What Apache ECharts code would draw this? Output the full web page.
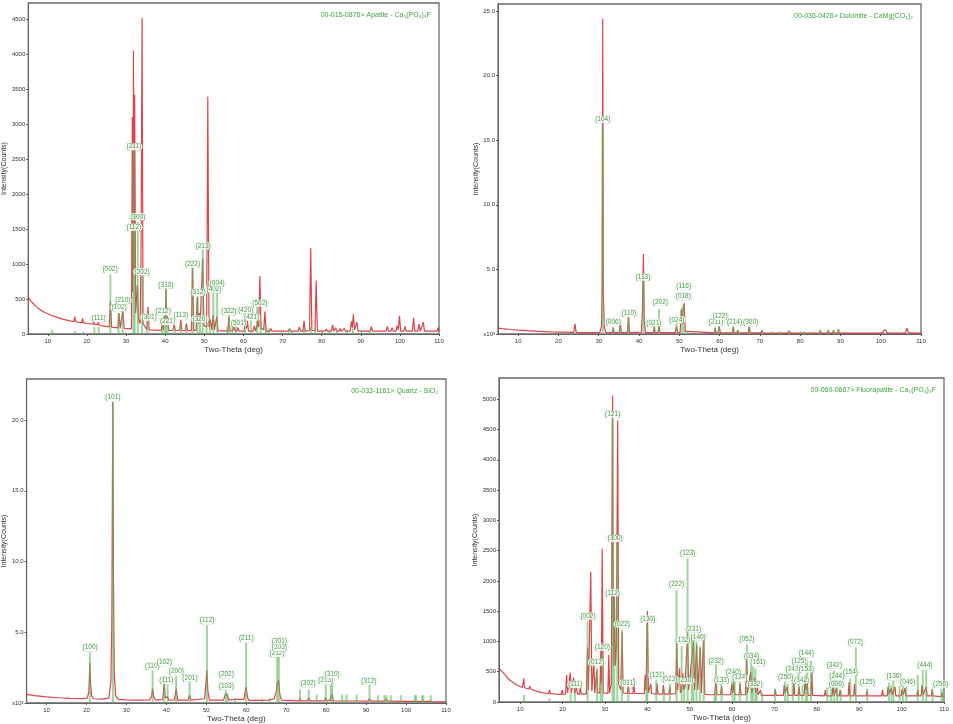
<!DOCTYPE html>
<html><head><meta charset="utf-8">
<script src="https://cdn.jsdelivr.net/npm/echarts@6/dist/echarts.min.js"></script>
<style>html,body{margin:0;padding:0;background:#fff}#c{width:953px;height:724px}</style>
</head><body><div id="c"></div>
<script>
// ---------- DATA ----------
const xTicks = [10,20,30,40,50,60,70,80,90,100,110];

// Panel 1: Apatite (counts)
const p1Title = "00-015-0876> Apatite - Ca\u2085(PO\u2084)\u2083F";
const p1YTicks = [0,500,1000,1500,2000,2500,3000,3500,4000,4500];
const p1Scan = [[5,520],[6,450],[7,395],[8,350],[9,315],[10,290],[11,265],[12,245],[14,210],[16,185],
[16.7,180],[16.9,250],[17.1,178],[18,165],[18.7,160],[18.9,225],[19.1,158],
[20,150],[21.6,140],[21.8,180],[22.0,138],[22.7,132],[22.9,180],[23.1,130],
[24,115],[25.7,102],[26.0,460],[26.3,98],[27.9,87],[28.2,300],[28.5,84],[28.9,82],[29.2,330],[29.5,80],
[30,75],[31.4,72],[31.6,3100],[31.75,600],[31.9,4050],[32.05,900],[32.2,3420],[32.45,300],[32.9,700],[33.2,200],[33.6,150],[33.85,1200],[34.1,4520],[34.35,150],
[35.3,62],[35.6,390],[35.9,60],[39.0,52],[39.3,150],[39.5,60],[39.8,250],[40.0,120],[40.2,650],[40.4,120],[40.6,250],[40.9,52],
[42.0,50],[42.3,140],[42.6,50],[43.7,50],[44.0,200],[44.3,50],[45.1,48],[45.4,150],[45.7,48],[46.7,48],[47.0,960],[47.3,48],
[47.9,47],[48.2,530],[48.45,150],[48.7,300],[48.95,150],[49.6,1080],[49.9,120],[50.6,100],[50.9,3390],[51.2,100],[51.6,200],[51.9,60],
[52.3,270],[52.6,60],[53.2,250],[53.5,45],[56.0,44],[56.3,250],[56.6,44],[57.2,43],[57.5,120],[57.8,43],[58.4,42],[58.6,90],[58.9,42],
[60.2,42],[60.5,240],[60.8,80],[61.0,200],[61.3,41],[62.5,41],[62.8,120],[63.1,41],[63.4,100],[63.6,180],[63.9,100],[64.2,830],[64.5,80],
[65.2,60],[65.5,320],[65.8,40],[66.7,40],[67.0,80],[67.3,40],[71.5,40],[71.8,80],[72.1,40],[74.0,40],[74.3,100],[74.6,40],
[75.2,40],[75.5,190],[75.8,40],[76.9,50],[77.2,1225],[77.5,50],[78.3,50],[78.6,760],[78.9,40],[80.9,40],[81.2,70],[81.5,40],
[82.5,40],[82.8,130],[83.1,40],[83.3,40],[83.6,90],[83.9,40],[84.5,40],[84.7,80],[85.0,40],[85.5,40],[85.8,80],[86.1,40],
[87.3,40],[87.6,180],[87.85,90],[88.1,280],[88.4,60],[88.7,50],[89.0,170],[89.3,40],[92.4,40],[92.7,110],[93.0,40],
[96.5,40],[96.8,110],[97.1,40],[97.7,40],[98.0,90],[98.3,40],[99.0,40],[99.3,120],[99.6,60],[99.9,260],[100.2,40],
[101.0,40],[101.3,110],[101.6,40],[103.2,40],[103.5,230],[103.8,40],[104.6,40],[104.9,140],[105.2,40],[105.7,40],[106.0,170],[106.3,40],
[109.5,40],[109.8,90],[110,45]];
const p1Sticks = [[11.1,60],[16.9,40],[19.0,30],[21.9,100],[23.0,100],[26.0,850],[28.1,300],[29.1,330],[31.9,2620],[32.2,1480],
[33.0,1600],[34.1,820],[35.5,210],[39.2,100],[39.8,280],[40.2,660],[40.6,150],[42.4,100],[44.0,160],[45.4,100],[47.0,950],
[48.3,540],[48.9,180],[49.6,1200],[50.6,150],[51.4,230],[52.3,600],[53.3,700],[55.9,100],[56.3,280],[57.2,90],[58.1,120],
[60.4,310],[61.9,200],[63.5,400],[64.4,180],[65.7,120],[66.4,80],[69.8,60],[71.6,70],[72.4,50],[75.5,90],[77.2,100],
[78.3,80],[80.1,60],[82.0,60],[83.9,70],[86.5,60],[88.0,80],[90.2,50],[92.3,50]];
const p1Labels = [[23.0,219,"(111)"],[25.9,924,"(002)"],[28.2,376,"(102)"],[29.2,476,"(210)"],[32.0,2677,"(211)"],
[32.0,1524,"(112)"],[33.0,1676,"(300)"],[34.1,890,"(202)"],[35.9,238,"(301)"],[39.5,319,"(212)"],[40.2,700,"(310)"],
[40.6,176,"(221)"],[44.0,262,"(113)"],[47.0,996,"(222)"],[48.4,596,"(312)"],[48.9,214,"(320)"],[49.7,1257,"(213)"],
[52.5,639,"(402)"],[53.3,733,"(004)"],[56.3,319,"(322)"],[58.7,152,"(501)"],[60.6,343,"(420)"],[62.1,238,"(421)"],[64.2,439,"(502)"]];

// Panel 2: Dolomite (x10^3 counts)
const p2Title = "00-036-0426> Dolomite - CaMg(CO\u2083)\u2082";
const p2YTicks = [0,5,10,15,20,25];
const p2Scan = [[5,0.46],[6,0.42],[8,0.35],[10,0.30],[12,0.26],[15,0.21],[18,0.17],[20,0.15],[21.8,0.14],[22.0,0.22],[22.2,0.14],
[23.8,0.12],[24.1,0.78],[24.4,0.12],[26,0.11],[28,0.1],[29.0,0.1],[29.3,0.25],[29.6,0.1],[30.3,0.12],[30.7,0.6],[30.85,3.6],
[31.0,24.4],[31.15,3.0],[31.4,0.5],[31.8,0.12],[33.4,0.1],[33.6,0.45],[33.8,0.1],[35.1,0.1],[35.35,0.94],[35.6,0.1],
[37.1,0.1],[37.4,1.32],[37.65,0.1],[40.6,0.15],[40.85,1.7],[41.1,6.19],[41.3,1.0],[41.6,0.1],[43.6,0.1],[43.8,0.55],[44.0,0.1],
[44.7,0.1],[44.95,0.75],[45.2,0.1],[49.0,0.1],[49.3,0.6],[49.6,0.1],[50.2,0.12],[50.5,1.9],[50.7,0.8],[51.0,2.1],[51.2,2.38],
[51.5,0.2],[51.9,0.1],[52.1,0.2],[52.3,0.08],[58.7,0.08],[58.9,0.5],[59.1,0.08],[59.6,0.08],[59.9,0.6],[60.2,0.08],
[61.8,0.08],[62.0,0.15],[62.2,0.08],[63.2,0.08],[63.4,0.55],[63.6,0.08],[64.3,0.08],[64.5,0.3],[64.7,0.08],[65.9,0.08],[66.1,0.2],[66.3,0.08],
[67.1,0.08],[67.35,0.57],[67.6,0.08],[70.2,0.08],[70.5,0.3],[70.8,0.08],[72.8,0.07],[73.0,0.2],[73.2,0.07],[74.8,0.07],[75.0,0.2],[75.2,0.07],
[76.9,0.07],[77.2,0.25],[77.5,0.07],[79.8,0.07],[80.0,0.18],[80.2,0.07],[84.8,0.07],[85.0,0.25],[85.2,0.07],[86.8,0.07],[87.0,0.25],[87.2,0.07],
[88.1,0.07],[88.3,0.3],[88.5,0.07],[89.3,0.07],[89.5,0.35],[89.7,0.07],[100.5,0.07],[100.8,0.3],[101.0,0.2],[101.3,0.3],[101.6,0.07],
[106.1,0.07],[106.5,0.45],[106.9,0.1],[108.3,0.07],[108.5,0.2],[108.7,0.07],[110,0.07]];
const p2Sticks = [[31.0,16.2],[33.6,0.55],[35.35,0.6],[37.4,1.25],[41.1,4.2],[43.8,0.6],[44.95,1.95],[49.3,0.8],[50.6,2.0],[51.1,2.3],
[52.0,0.2],[58.9,0.5],[59.9,0.6],[62.0,0.2],[63.4,0.55],[64.5,0.28],[65.2,0.15],[67.4,0.55],[70.5,0.25],[73.0,0.2],[75.0,0.2],
[77.3,0.25],[80.2,0.2],[81.0,0.2],[82.5,0.15],[85.0,0.35],[87.0,0.35],[88.3,0.3],[89.5,0.4]];
const p2Labels = [[31.0,16.6,"(104)"],[33.6,0.9,"(006)"],[37.5,1.6,"(110)"],[41.0,4.4,"(113)"],[43.7,0.87,"(021)"],[45.3,2.5,"(202)"],
[49.4,1.1,"(024)"],[51.0,2.9,"(018)"],[51.1,3.7,"(116)"],[59.1,0.9,"(211)"],[60.1,1.36,"(122)"],[63.7,0.9,"(214)"],[67.7,0.9,"(300)"]];

// Panel 3: Quartz (x10^3 counts)
const p3Title = "00-033-1161> Quartz - SiO\u2082";
const p3YTicks = [0,5,10,15,20];
const p3Scan = [[5,0.61],[7,0.52],[10,0.43],[13,0.37],[16,0.33],[19,0.31],[20.2,0.35],[20.6,0.8],[20.85,2.83],[21.0,1.4],[21.3,0.5],[21.7,0.3],
[24,0.27],[25.6,0.35],[26.1,1.5],[26.35,5.6],[26.6,21.3],[26.75,9.2],[26.95,2.0],[27.3,0.5],[28,0.25],[30,0.22],[33,0.2],
[35.8,0.22],[36.3,0.5],[36.55,1.02],[36.8,0.45],[37.3,0.2],[39.1,0.25],[39.45,1.37],[39.7,0.35],[40.3,0.45],[40.6,0.2],
[42.0,0.22],[42.45,1.02],[42.8,0.2],[45.4,0.2],[45.8,0.55],[46.2,0.2],[49.6,0.3],[50.15,2.31],[50.4,0.8],[50.8,0.2],
[54.3,0.2],[54.85,0.68],[55.3,0.5],[55.7,0.2],[57.2,0.25],[59.4,0.25],[59.95,1.13],[60.3,0.4],[60.7,0.18],[63.8,0.18],[64.0,0.3],[64.3,0.17],
[65.8,0.2],[67.0,0.3],[67.5,0.8],[67.75,1.4],[68.1,1.6],[68.4,0.6],[68.8,0.2],[73.2,0.15],[73.5,0.3],[73.8,0.15],[75.3,0.15],[75.65,0.35],[76.0,0.15],
[77.6,0.15],[79.6,0.15],[79.9,0.4],[80.2,0.15],[81.0,0.2],[81.2,0.45],[81.5,0.6],[81.8,0.15],[83.8,0.14],[84.0,0.25],[84.3,0.14],[87.6,0.14],
[90.5,0.13],[90.85,0.3],[91.2,0.13],[94.6,0.13],[95.0,0.28],[95.4,0.13],[96.0,0.13],[96.3,0.22],[96.6,0.13],[98.7,0.12],
[102.2,0.12],[102.4,0.22],[102.7,0.12],[104.0,0.12],[104.2,0.2],[104.5,0.12],[106.0,0.12],[106.3,0.25],[106.6,0.1],[110,0.08]];
const p3Sticks = [[20.85,3.6],[26.6,21.2],[36.55,2.3],[39.45,1.9],[40.3,1.3],[42.45,1.9],[45.8,1.5],[50.15,5.5],[54.85,0.9],[55.3,0.7],
[57.2,0.35],[59.95,4.25],[64.0,0.3],[65.8,0.35],[67.75,3.3],[68.15,3.3],[73.45,0.95],[75.65,0.95],[77.6,0.6],[79.9,1.3],[81.15,1.3],
[81.5,1.7],[84.0,0.6],[85.1,0.6],[87.6,0.6],[90.85,1.3],[93.0,0.55],[94.6,0.55],[95.1,0.55],[96.2,0.55],[98.7,0.55],[102.2,0.55],
[102.5,0.55],[104.0,0.55],[104.3,0.55],[106.2,0.55]];
const p3Labels = [[20.9,3.92,"(100)"],[26.6,21.6,"(101)"],[36.5,2.62,"(110)"],[39.5,2.88,"(102)"],[40.0,1.6,"(111)"],[42.5,2.24,"(200)"],
[45.9,1.77,"(201)"],[50.2,5.82,"(112)"],[55.0,2.0,"(202)"],[55.0,1.18,"(103)"],[60.0,4.57,"(211)"],[67.7,3.49,"(212)"],
[68.3,3.92,"(203)"],[68.3,4.38,"(301)"],[75.5,1.37,"(302)"],[79.9,1.6,"(213)"],[81.5,2.0,"(310)"],[90.7,1.56,"(312)"]];

// Panel 4: Fluorapatite (counts)
const p4Title = "00-060-0667> Fluorapatite - Ca\u2085(PO\u2084)\u2083F";
const p4YTicks = [0,500,1000,1500,2000,2500,3000,3500,4000,4500,5000];
const p4Scan = [[5,555],[6,480],[7.5,363],[9,290],[10.5,240],[10.7,250],[10.85,390],[11.0,235],[12.0,215],[12.3,260],[12.5,210],[14,175],[15,155],
[16.7,140],[16.9,200],[17.1,138],[18.5,130],[19.7,125],[19.9,200],[20.1,125],[20.7,130],[20.95,445],[21.2,150],[21.55,150],[21.8,484],[22.05,150],
[22.35,140],[22.6,400],[22.85,140],[23.1,135],[23.3,250],[23.5,130],[24.0,130],[24.2,253],[24.4,130],[25.6,130],[25.9,900],[26.1,200],
[26.4,200],[26.65,2150],[26.9,180],[27.2,150],[27.4,667],[27.6,150],[27.9,150],[28.1,528],[28.3,150],[28.8,150],[29.05,900],[29.15,300],
[29.35,2530],[29.6,150],[30.7,140],[30.9,775],[31.1,150],[31.5,300],[31.8,5060],[32.0,600],[32.2,1750],[32.45,600],[32.7,900],[33.0,4650],
[33.25,300],[33.7,200],[34.05,1150],[34.3,150],[35.3,140],[35.5,300],[35.7,140],[36.6,140],[36.8,390],[37.0,140],[39.3,140],[39.5,445],
[39.7,200],[40.0,1507],[40.25,150],[40.6,140],[40.8,300],[41.0,140],[42.1,130],[42.3,300],[42.5,130],[43.6,130],[43.8,280],[44.0,130],
[45.1,130],[45.3,250],[45.5,130],[46.7,140],[46.95,970],[47.15,200],[47.4,200],[47.6,556],[47.8,150],[48.1,200],[48.4,480],[48.6,200],
[48.9,250],[49.5,1130],[49.75,200],[50.2,200],[50.9,1000],[51.15,200],[51.65,950],[51.9,200],[52.5,900],[52.75,150],[53.3,1100],[53.55,130],
[54.5,120],[55.9,120],[56.2,400],[56.45,120],[57.3,120],[57.5,260],[57.7,120],[59.7,120],[59.9,300],[60.15,150],[60.4,330],[60.65,120],
[61.7,120],[61.9,300],[62.1,120],[63.2,120],[63.4,750],[63.65,150],[64.4,500],[64.65,150],[65.3,400],[65.55,150],[65.9,300],[66.15,120],
[66.5,120],[66.7,200],[66.9,110],[68.5,110],[70.0,110],[70.2,200],[70.4,110],[72.1,110],[72.3,280],[72.55,150],[73.0,250],[73.2,110],
[74.4,110],[74.6,300],[74.8,110],[75.6,110],[75.8,250],[76.0,110],[77.0,110],[77.2,400],[77.45,200],[77.7,350],[77.95,110],[78.6,110],
[78.8,550],[79.0,110],[81.8,100],[82.0,200],[82.2,100],[83.6,100],[83.8,270],[84.1,100],[84.4,100],[84.6,230],[84.8,100],[85.3,100],
[85.5,200],[85.7,100],[87.4,100],[87.6,330],[87.8,100],[88.7,100],[88.9,300],[89.1,100],[91.6,100],[91.8,180],[92.0,100],[95.3,100],
[95.5,200],[95.7,100],[96.6,100],[96.8,250],[97.1,130],[97.5,230],[97.8,120],[98.4,250],[98.65,100],[99.9,100],[100.1,210],[100.4,120],
[100.8,230],[101.0,100],[103.6,100],[103.8,200],[104.0,100],[104.6,100],[104.8,280],[105.1,120],[105.8,250],[106.0,100],[107.0,100],
[107.2,200],[107.4,100],[109.3,90],[109.5,150],[109.7,90],[110,90]];
const p4Sticks = [[10.9,115],[16.9,60],[21.9,150],[22.9,198],[25.9,1336],[28.1,560],[29.0,350],[29.4,780],[31.8,4660],[32.2,1700],
[32.9,2620],[34.0,1200],[35.5,250],[39.8,300],[40.0,1280],[42.1,370],[43.9,200],[45.3,300],[46.9,1850],[48.1,920],[48.7,280],
[49.5,2370],[50.5,1100],[50.9,1020],[51.6,1000],[52.4,920],[53.3,1120],[55.9,150],[56.2,620],[57.5,300],[60.1,420],[60.6,350],
[61.8,330],[63.5,950],[64.5,670],[64.9,580],[65.5,556],[65.8,200],[67.1,150],[70.1,225],[72.5,336],[73.1,300],[74.3,460],[75.7,600],
[76.6,280],[77.4,450],[77.7,720],[78.6,682],[82.5,240],[83.4,225],[84.1,520],[84.8,330],[85.6,200],[87.9,390],[89.2,902],[91.9,225],
[97.0,319],[97.6,280],[98.1,352],[99.5,264],[100.3,281],[101.1,250],[103.8,445],[105.0,528],[105.8,528],[107.3,225],[109.4,225],[109.8,170]];
const p4Labels = [[23.0,290,"(111)"],[26.0,1419,"(002)"],[28.0,655,"(012)"],[29.4,902,"(120)"],[31.8,4752,"(121)"],[31.8,1804,"(112)"],
[32.4,2700,"(300)"],[34.1,1282,"(022)"],[35.4,308,"(031)"],[40.1,1370,"(130)"],[42.3,445,"(131)"],[45.3,374,"(023)"],[46.9,1941,"(222)"],
[48.4,1023,"(132)"],[49.1,352,"(230)"],[49.5,2453,"(123)"],[50.9,1205,"(231)"],[52.0,1078,"(140)"],[56.2,677,"(232)"],[57.5,363,"(133)"],
[60.3,490,"(240)"],[61.8,402,"(124)"],[63.5,1040,"(052)"],[64.6,759,"(034)"],[66.1,649,"(161)"],[65.4,292,"(332)"],[72.6,407,"(250)"],
[74.4,539,"(243)"],[75.8,677,"(125)"],[77.5,798,"(144)"],[77.5,539,"(153)"],[76.4,363,"(342)"],[84.1,615,"(342)"],[84.7,418,"(244)"],
[84.6,297,"(006)"],[87.9,490,"(154)"],[89.1,985,"(072)"],[91.9,319,"(125)"],[98.2,418,"(136)"],[101.4,325,"(046)"],[105.5,605,"(444)"],[109.2,297,"(256)"]];

// ---------- LAYOUT / STYLE ----------
const FONT = "'Liberation Sans', Arial, sans-serif";
const panels = [
  {title:p1Title, scan:p1Scan, sticks:p1Sticks, labels:p1Labels, yTicks:p1YTicks, ymax:4730, fmt:v=>String(v),
   grid:{left:24, top:3, width:415, height:331}, nameGap:11},
  {title:p2Title, scan:p2Scan, sticks:p2Sticks, labels:p2Labels, yTicks:p2YTicks, ymax:25.55, fmt:v=>v===0?'x10\u00b3':v.toFixed(1),
   grid:{left:498, top:4, width:423, height:330}, nameGap:15},
  {title:p3Title, scan:p3Scan, sticks:p3Sticks, labels:p3Labels, yTicks:p3YTicks, ymax:22.9, fmt:v=>v===0?'x10\u00b3':v.toFixed(1),
   grid:{left:24, top:379, width:422, height:324}, nameGap:12},
  {title:p4Title, scan:p4Scan, sticks:p4Sticks, labels:p4Labels, yTicks:p4YTicks, ymax:5350, fmt:v=>String(v),
   grid:{left:499, top:378, width:445, height:324}, nameGap:15}
];

const grids=[], xAxes=[], yAxes=[], series=[], titles=[];
panels.forEach((p,i)=>{
  grids.push(Object.assign({show:true, borderColor:'#6a6a6a', borderWidth:1.3, backgroundColor:'#fff'}, p.grid));
  titles.push({text:p.title, right:953-(p.grid.left+p.grid.width)+3, top:p.grid.top+4,
    textStyle:{fontSize:7, fontWeight:'normal', color:'#3fa33f', fontFamily:FONT}});
  xAxes.push({type:'value', gridIndex:i, min:5, max:110,
    name:'Two-Theta (deg)', nameLocation:'middle', nameGap:12,
    nameTextStyle:{fontSize:8, color:'#333', fontFamily:FONT},
    axisLine:{lineStyle:{color:'#666'}}, splitLine:{show:false},
    axisTick:{customValues:xTicks, length:2, lineStyle:{color:'#555'}},
    axisLabel:{customValues:xTicks, fontSize:6, color:'#333', margin:4, fontFamily:FONT}});
  yAxes.push({type:'value', gridIndex:i, min:0, max:p.ymax,
    name:'Intensity(Counts)', nameLocation:'middle', nameGap:p.nameGap,
    nameTextStyle:{fontSize:7, color:'#333', fontFamily:FONT},
    axisLine:{show:true, lineStyle:{color:'#666'}}, splitLine:{show:false},
    axisTick:{customValues:p.yTicks, length:2, lineStyle:{color:'#555'}},
    axisLabel:{customValues:p.yTicks, fontSize:6, color:'#333', margin:3, fontFamily:FONT, formatter:p.fmt}});
  series.push({type:'line', xAxisIndex:i, yAxisIndex:i, data:p.scan, showSymbol:false, symbol:'none',
    lineStyle:{color:'#d4232a', width:1.2, opacity:0.85}, z:2, silent:true, animation:false});
  series.push({type:'custom', xAxisIndex:i, yAxisIndex:i, data:p.sticks, encode:{x:0,y:1}, z:3, silent:true, animation:false,
    renderItem:(params, api)=>{
      const a = api.coord([api.value(0), 0]);
      const b = api.coord([api.value(0), api.value(1)]);
      return {type:'rect', shape:{x:a[0]-1, y:b[1], width:2, height:a[1]-b[1]},
        style:{fill:'rgba(95,185,95,0.6)'}};
    }});
  series.push({type:'custom', xAxisIndex:i, yAxisIndex:i, data:p.labels.map(l=>[l[0],l[1]]), encode:{x:0,y:1}, z:5, silent:true, animation:false,
    renderItem:(params, api)=>{
      const c = api.coord([api.value(0), api.value(1)]);
      return {type:'text', x:c[0], y:c[1], z2:10, style:{text:p.labels[params.dataIndex][2], fill:'#3f9f3f',
        font:'6.5px '+FONT, align:'center', verticalAlign:'middle',
        backgroundColor:'rgba(255,255,255,0.85)', padding:[0,1], borderRadius:3,
        borderColor:'rgba(180,180,180,0.5)', borderWidth:0.5}};
    }});
});

const chart = echarts.init(document.getElementById('c'), null, {renderer:'canvas'});
chart.setOption({animation:false, backgroundColor:'#fff', title:titles, grid:grids, xAxis:xAxes, yAxis:yAxes, series:series});
</script></body></html>
